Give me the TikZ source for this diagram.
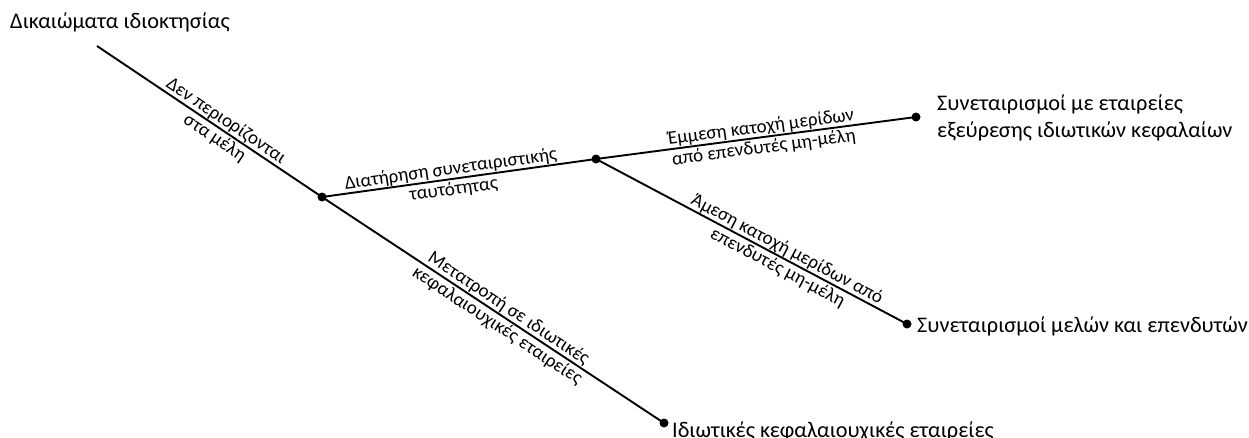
\documentclass[tikz,border=0pt]{standalone}
\usepackage{fontspec}
\setmainfont{Carlito}
\setlength{\tabcolsep}{0pt}
\newcommand{\twolines}[2]{\begin{tabular}[t]{c}#1\\#2\end{tabular}}
\begin{document}
\begin{tikzpicture}[x=1pt,y=-1pt,
  branch/.style={line width=1.9pt},
  dotpt/.style={circle,fill,inner sep=0pt,minimum size=9pt},
  lbl/.style={sloped,anchor=base,font=\fontsize{19}{20.5}\selectfont,inner sep=0pt,yshift=4.5pt},
  leaf/.style={anchor=west,align=left,font=\fontsize{22.3}{27}\selectfont,inner sep=0pt}]
\useasboundingbox (0,0) rectangle (1249,437);
\coordinate (root) at (97,46);
\node[dotpt] (j1) at (322,197) {};
\node[dotpt] (j2) at (596,159) {};
\node[dotpt] (e1) at (916,117) {};
\node[dotpt] (e2) at (907,324) {};
\node[dotpt] (e3) at (664,423) {};
\node[leaf] (title) at (10,22) {Δικαιώματα ιδιοκτησίας};
\node[leaf] (t1) at (937,118) {Συνεταιρισμοί με εταιρείες\\εξεύρεσης ιδιωτικών κεφαλαίων};
\node[leaf] (t2) at (917,326) {Συνεταιρισμοί μελών και επενδυτών};
\node[leaf] (t3) at (672,432) {Ιδιωτικές κεφαλαιουχικές εταιρείες};
\draw[branch] (root) -- (j1.center) node[lbl,pos=0.55] {\twolines{Δεν περιορίζονται}{στα μέλη}};
\draw[branch] (j1.center) -- (j2.center) node[lbl,pos=0.475] {\twolines{Διατήρηση συνεταιριστικής}{ταυτότητας}};
\draw[branch] (j2.center) -- (e1.center) node[lbl,pos=0.52] {\twolines{Έμμεση κατοχή μερίδων}{από επενδυτές μη-μέλη}};
\draw[branch] (j2.center) -- (e2.center) node[lbl,pos=0.60] {\twolines{Άμεση κατοχή μερίδων από}{επενδυτές μη-μέλη}};
\draw[branch] (j1.center) -- (e3.center) node[lbl,pos=0.53] {\twolines{Μετατροπή σε ιδιωτικές}{κεφαλαιουχικές εταιρείες}};
\end{tikzpicture}
\end{document}
